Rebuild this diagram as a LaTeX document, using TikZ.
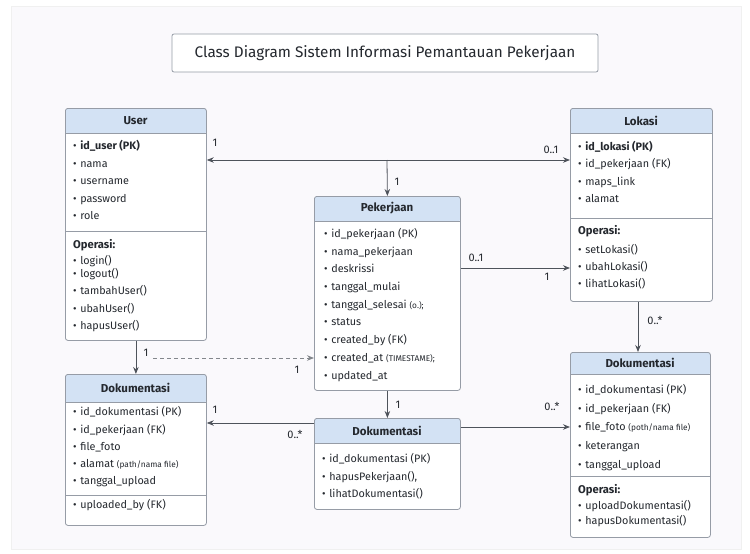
\documentclass[tikz,border=0pt]{standalone}
\usepackage{fontspec}
\setmainfont{Fira Sans}
\usetikzlibrary{arrows.meta,calc}
\definecolor{hdr}{HTML}{D3E2F4}
\definecolor{bordc}{HTML}{969CA6}
\definecolor{linec}{HTML}{4E535B}
\definecolor{txtc}{HTML}{24282E}
\definecolor{panel}{HTML}{FAF9FC}
\newcommand\itm[4]{\node[item] (#1) at (#2,#3) {\textbullet\hspace{3.6pt}#4};}
\newcommand\smallp[1]{{\fontsize{8.3}{9}\selectfont #1}}
\begin{document}
\begin{tikzpicture}[x=1pt,y=-1pt,
  cbox/.style={draw=bordc, fill=white, line width=0.8pt, rounded corners=2.5pt, anchor=north west, inner sep=0pt,
    path picture={\fill[hdr] (path picture bounding box.north west) rectangle ([yshift=-#1]path picture bounding box.north east);
      \draw[bordc, line width=0.8pt] ([yshift=-#1]path picture bounding box.north west) -- ([yshift=-#1]path picture bounding box.north east);}},
  hdrtext/.style={font=\fontsize{11.5}{13}\selectfont\bfseries, text=txtc, inner sep=0pt},
  item/.style={anchor=west, font=\fontsize{10.8}{12}\selectfont, text=txtc, inner sep=0pt, text height=7pt, text depth=2pt},
  optitle/.style={anchor=west, font=\fontsize{11.2}{12}\selectfont\bfseries, text=txtc, inner sep=0pt, text height=7pt, text depth=2pt},
  sep/.style={draw=bordc, line width=0.8pt},
  conn/.style={draw=linec, line width=0.8pt, -{Stealth[length=7pt,width=5.5pt]}},
  mult/.style={font=\fontsize{11}{12}\selectfont, text=txtc, inner sep=0pt}]
\useasboundingbox (0,0) rectangle (750,554);
\fill[white] (0,0) rectangle (750,554);
\draw[draw=black!6, fill=panel] (11,6) rectangle (741,549);

% title
\node[draw=bordc, fill=white, line width=0.8pt, rounded corners=2pt, minimum width=426pt, minimum height=38pt, inner sep=0pt,
  font=\fontsize{15.3}{17}\selectfont, text=txtc] (title) at (385,53) {Class Diagram Sistem Informasi Pemantauan Pekerjaan};

% boxes
\node[cbox=25pt, minimum width=141pt, minimum height=232pt] (user) at (65,108) {};
\node[cbox=25pt, minimum width=146pt, minimum height=194pt] (pek) at (314,196) {};
\node[cbox=25pt, minimum width=142pt, minimum height=193pt] (lok) at (570,108) {};
\node[cbox=28pt, minimum width=141pt, minimum height=151pt] (dokL) at (65,374) {};
\node[cbox=25pt, minimum width=146pt, minimum height=91pt] (dokM) at (314,418) {};
\node[cbox=22pt, minimum width=140pt, minimum height=185pt] (dokR) at (570,352) {};

% separators
\draw[sep] (user.west |- 0,231) -- (user.east |- 0,231);
\draw[sep] (lok.west |- 0,218) -- (lok.east |- 0,218);
\draw[sep] (dokL.west |- 0,495) -- (dokL.east |- 0,495);
\draw[sep] (dokR.west |- 0,476) -- (dokR.east |- 0,476);

% headers
\node[hdrtext] (userh) at (135.5,120.5) {User};
\node[hdrtext] (pekh) at (387,208.5) {Pekerjaan};
\node[hdrtext] (lokh) at (641,120.5) {Lokasi};
\node[hdrtext] (dokLh) at (135.5,388) {Dokumentasi};
\node[hdrtext] (dokMh) at (387,430.5) {Dokumentasi};
\node[hdrtext] (dokRh) at (640,363) {Dokumentasi};

% User
\itm{u1}{73}{147}{\textbf{id\_user (PK)}}
\itm{u2}{73}{164.5}{nama}
\itm{u3}{73}{182}{username}
\itm{u4}{73}{199.5}{password}
\itm{u5}{73}{217}{role}
\node[optitle] (uop) at (73,246) {Operasi:};
\itm{u6}{73}{262}{login()}
\itm{u7}{73}{275}{logout()}
\itm{u8}{73}{292}{tambahUser()}
\itm{u9}{73}{309.5}{ubahUser()}
\itm{u10}{73}{327}{hapusUser()}

% Pekerjaan
\itm{p1}{324}{235}{id\_pekerjaan (PK)}
\itm{p2}{324}{252.5}{nama\_pekerjaan}
\itm{p3}{324}{270}{deskrissi}
\itm{p4}{324}{288}{tanggal\_mulai}
\itm{p5}{324}{305.5}{tanggal\_selesai \smallp{(o.);}}
\itm{p6}{324}{323}{status}
\itm{p7}{324}{341}{created\_by (FK)}
\itm{p8}{324}{358.5}{created\_at \smallp{(TIMESTAME);}}
\itm{p9}{324}{376.5}{updated\_at}

% Lokasi
\itm{l1}{578}{148}{\textbf{id\_lokasi (PK)}}
\itm{l2}{578}{165}{id\_pekerjaan (FK)}
\itm{l3}{578}{182.5}{maps\_link}
\itm{l4}{578}{200}{alamat}
\node[optitle] (lop) at (578,232) {Operasi:};
\itm{l5}{578}{250.5}{setLokasi()}
\itm{l6}{578}{268}{ubahLokasi()}
\itm{l7}{578}{285}{lihatLokasi()}

% Dokumentasi left
\itm{a1}{73}{413}{id\_dokumentasi (PK)}
\itm{a2}{73}{430.5}{id\_pekerjaan (FK)}
\itm{a3}{73}{448}{file\_foto}
\itm{a4}{73}{465}{alamat \smallp{(path/nama file)}}
\itm{a5}{73}{481.5}{tanggal\_upload}
\itm{a6}{73}{505.5}{uploaded\_by (FK)}

% Dokumentasi middle
\itm{m1}{322}{460}{id\_dokumentasi (PK)}
\itm{m2}{322}{478}{hapusPekerjaan(),}
\itm{m3}{322}{495}{lihatDokumentasi()}

% Dokumentasi right
\itm{r1}{578}{391}{id\_dokumentasi (PK)}
\itm{r2}{578}{410}{id\_pekerjaan (FK)}
\itm{r3}{578}{428}{file\_foto \smallp{(poth/nama file)}}
\itm{r4}{578}{447}{keterangan}
\itm{r5}{578}{465.5}{tanggal\_upload}
\node[optitle] (rop) at (578,491) {Operasi:};
\itm{r6}{578}{507}{uploadDokumentasi()}
\itm{r7}{578}{522}{hapusDokumentasi()}

% connectors
\coordinate (j1) at (387,160);
\coordinate (d1) at (153,358);
\draw[conn, {Stealth[length=7pt,width=5.5pt]}-{Stealth[length=7pt,width=5.5pt]}] (user.east |- j1) -- (lok.west |- j1);
\draw[conn] (j1) -- (pek.north);
\draw[conn] (pek.east |- 0,268) -- (lok.west |- 0,268);
\draw[conn] (user.south) -- (dokL.north);
\draw[conn, dashed, dash pattern=on 4pt off 3pt, draw=linec!70] (d1) -- (pek.west |- d1);
\draw[conn] (pek.south) -- (dokM.north);
\draw[conn] (dokM.west |- 0,423) -- (dokL.east |- 0,423);
\draw[conn] (dokM.east |- 0,427) -- (dokR.west |- 0,427);
\draw[conn] (lok.south -| 638,0) -- (dokR.north -| 638,0);

% multiplicities
\node[mult] (m_a) at (215,143) {1};
\node[mult] (m_b) at (551,150) {0..1};
\node[mult] (m_c) at (397,182) {1};
\node[mult] (m_d) at (476,258) {0..1};
\node[mult] (m_e) at (547,277) {1};
\node[mult] (m_f) at (146,353) {1};
\node[mult] (m_g) at (297,370) {1};
\node[mult] (m_h) at (215,410) {1};
\node[mult] (m_i) at (295,434) {0..*};
\node[mult] (m_j) at (398,405) {1};
\node[mult] (m_k) at (552,406) {0..*};
\node[mult] (m_l) at (655,320) {0..*};
\end{tikzpicture}
\end{document}
